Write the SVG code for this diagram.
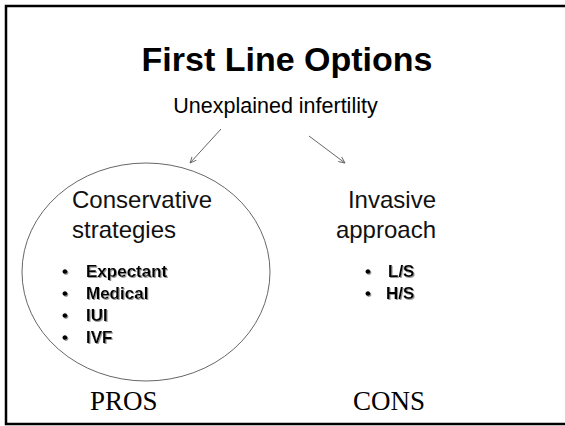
<svg xmlns="http://www.w3.org/2000/svg" width="565" height="426" viewBox="0 0 565 426">
<style>
.sans{font-family:"Liberation Sans",Arial,sans-serif;fill:#000}
.title{font-size:34px;font-weight:bold}
.sub{font-size:21.5px}
.head{font-size:24px;fill:#111}
.item{font-size:17px;font-weight:bold;filter:url(#sh)}
.serif{font-family:"Liberation Serif","Times New Roman",serif;font-size:27px;fill:#000}
.conn{stroke:#666;stroke-width:1;fill:none;marker-end:url(#ah)}
</style>
<defs>
<marker id="ah" viewBox="0 0 10 10" refX="9" refY="5" markerWidth="7" markerHeight="7" orient="auto" markerUnits="userSpaceOnUse">
<path d="M0,1 L9,5 L0,9" fill="none" stroke="#666" stroke-width="1.3"/>
</marker>
<filter id="sh" x="-10%" y="-20%" width="130%" height="150%">
<feDropShadow dx="1" dy="1" stdDeviation="0.4" flood-color="#999" flood-opacity="1"/>
</filter>
</defs>
<rect width="565" height="426" fill="#fff"/>
<rect x="6" y="6" width="580" height="418" fill="none" stroke="#000" stroke-width="2.5"/>
<g id="title"><text class="sans title" x="287" y="71" text-anchor="middle">First Line Options</text></g>
<g id="root"><text class="sans sub" x="275.5" y="113" text-anchor="middle">Unexplained infertility</text></g>
<g id="conservative">
<ellipse cx="146" cy="272" rx="124" ry="109" fill="none" stroke="#555" stroke-width="0.9"/>
<text class="sans head" x="72" y="208">Conservative</text>
<text class="sans head" x="72" y="238">strategies</text>
<g class="sans item">
<text x="62" y="277">•</text><text x="86" y="277">Expectant</text>
<text x="62" y="298.5">•</text><text x="86" y="298.5">Medical</text>
<text x="62" y="320.5">•</text><text x="86" y="320.5">IUI</text>
<text x="62" y="342.5">•</text><text x="86" y="342.5">IVF</text>
</g>
</g>
<g id="invasive">
<text class="sans head" x="436" y="208" text-anchor="end">Invasive</text>
<text class="sans head" x="436" y="238" text-anchor="end">approach</text>
<g class="sans item">
<text x="365" y="277">•</text><text x="388" y="277">L/S</text>
<text x="365" y="298.5">•</text><text x="386" y="298.5">H/S</text>
</g>
</g>
<g id="pros"><text class="serif" x="90" y="410">PROS</text></g>
<g id="cons"><text class="serif" x="353" y="410">CONS</text></g>
<g id="connectors">
<line class="conn" x1="221" y1="129" x2="190" y2="163"/>
<line class="conn" x1="309" y1="136" x2="345" y2="163"/>
</g>
</svg>
